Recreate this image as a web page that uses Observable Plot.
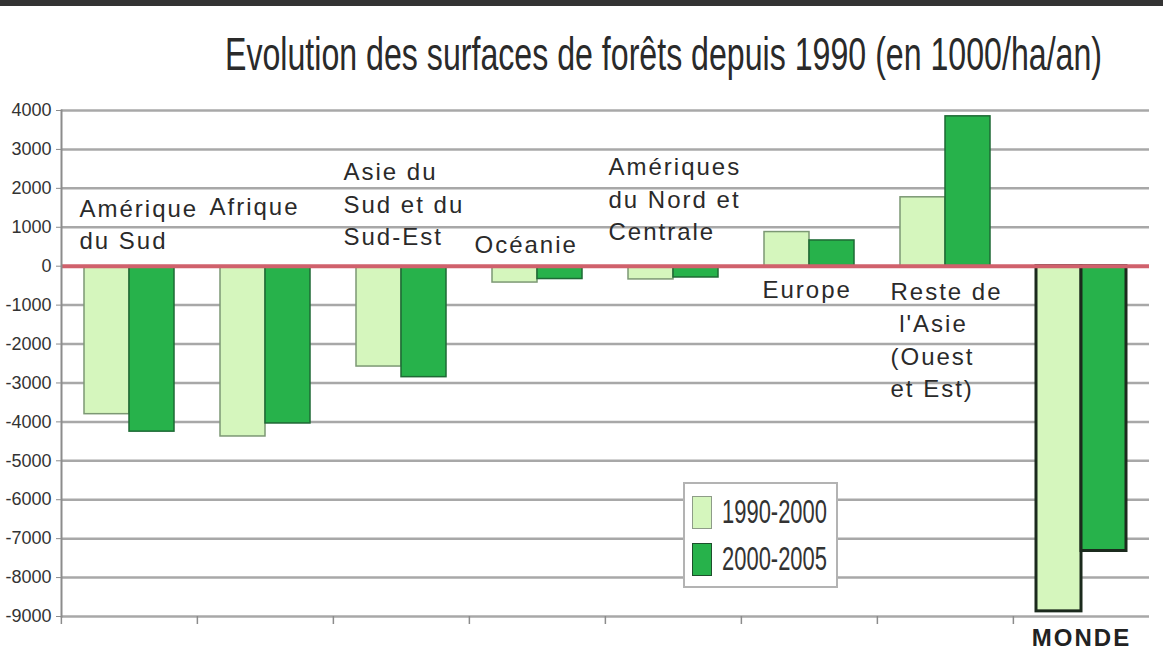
<!DOCTYPE html>
<html>
<head>
<meta charset="utf-8">
<script src="https://cdn.jsdelivr.net/npm/d3@7"></script>
<script src="https://cdn.jsdelivr.net/npm/@observablehq/plot@0.6"></script>
<style>
  body { margin: 0; background: #fff; }
  #page { position: relative; width: 1163px; height: 657px; overflow: hidden; background: #fff; }
  #strip { height: 6px; background: #333; }
  #title { position: relative; height: 84px; }
  #title span { position: absolute; left: 225px; top: 25px; font-family: "Liberation Sans Narrow", "Liberation Sans", Arial, sans-serif; font-size: 46px; line-height: 46px; color: #2a2a2a; white-space: nowrap; transform-origin: 0 0; }
  #legend { position: absolute; left: 683px; top: 482px; width: 151px; height: 102px; border: 2px solid #b3b3b3; background: #fff; z-index: 2; }
  .sw { position: absolute; width: 18px; height: 31px; z-index: 3; }
  .lt { position: absolute; font-family: "Liberation Sans Narrow", "Liberation Sans", Arial, sans-serif; font-size: 34px; line-height: 34px; color: #333; white-space: nowrap; transform-origin: 0 0; z-index: 3; }
  svg g[aria-label="text"] text { letter-spacing: 2px; }
</style>
</head>
<body>
<div id="page">
  <div id="strip"></div>
  <div id="title"><span id="titleText"></span></div>
  <div id="chart"></div>
  <div id="legend"></div>
</div>
<script>
// ---- data ----
const titleText = "Evolution des surfaces de forêts depuis 1990 (en 1000/ha/an)";
const categories = [
  "Amérique du Sud", "Afrique", "Asie du Sud et du Sud-Est", "Océanie",
  "Amériques du Nord et Centrale", "Europe", "Reste de l'Asie (Ouest et Est)", "MONDE"
];
const series = ["1990-2000", "2000-2005"];
const values1990_2000 = [-3802, -4375, -2578, -420, -340, 877, 1770, -8868];
const values2000_2005 = [-4251, -4040, -2851, -330, -290, 661, 3850, -7317];
const yTicks = [4000, 3000, 2000, 1000, 0, -1000, -2000, -3000, -4000, -5000, -6000, -7000, -8000, -9000];
const labelTexts = [
  "Amérique\ndu Sud", "Afrique", "Asie du\nSud et du\nSud-Est", "Océanie",
  "Amériques\ndu Nord et\nCentrale", "Europe", "Reste de\n\u00a0l'Asie\n(Ouest\net Est)", null
];
const bottomLabel = "MONDE";
// label vertical anchor, in chart units (1000 ha/an)
const labelY = [1118, 1593, 1644, 617, 1773, -552, -1850, null];

// ---- layout / style ----
const W = 1163, H = 567, mL = 60, mR = 13, mT = 20, mB = 41;
const step = (W - mL - mR) / categories.length;
const labelDx = [18, 12, 10, 5, 3, 21, 13, 0];
const barStyle = {
  "1990-2000": {fill: "#d5f6bd", stroke: "#7c9874"},
  "2000-2005": {fill: "#27b24b", stroke: "#1e6a35"}
};

const rows = categories.flatMap((c, i) => [
  {region: c, period: series[0], value: values1990_2000[i]},
  {region: c, period: series[1], value: values2000_2005[i]}
]);

document.getElementById("titleText").textContent = titleText;

const marks = [
  Plot.ruleY(yTicks.filter(d => d !== 0), {stroke: "#a8a8a8", strokeWidth: 2.5}),
  ...series.flatMap(s => [
    Plot.barY(rows.filter(d => d.period === s && d.region !== "MONDE"),
      {fx: "region", x: "period", y: "value", fill: barStyle[s].fill, stroke: barStyle[s].stroke, strokeWidth: 1.5}),
    Plot.barY(rows.filter(d => d.period === s && d.region === "MONDE"),
      {fx: "region", x: "period", y: "value", fill: barStyle[s].fill, stroke: "#1b2a1d", strokeWidth: 3})
  ]),
  Plot.ruleY([0], {stroke: "#d0616c", strokeWidth: 4}),
  Plot.frame({anchor: "left", facet: "super", stroke: "#8c8c8c", strokeWidth: 2}),
  Plot.axisY(yTicks, {tickFormat: d => String(d), tickSize: 5, tickPadding: 5, fontSize: 18, color: "#333", stroke: "#8c8c8c", label: null}),
  Plot.axisFx({anchor: "bottom", tickSize: 8, tickFormat: () => "", dx: -step / 2, label: null, stroke: "#8c8c8c", strokeWidth: 1.5}),
  Plot.text([{region: bottomLabel}], {fx: "region", text: "region", frameAnchor: "bottom", lineAnchor: "top", dy: 12, fontSize: 24, fontWeight: "bold", fill: "#222"})
];

categories.forEach((c, i) => {
  if (!labelTexts[i]) return;
  marks.push(Plot.text([{region: c, text: labelTexts[i], y: labelY[i]}], {
    fx: "region", y: "y", text: "text", frameAnchor: "left", textAnchor: "start",
    lineAnchor: "middle", lineHeight: 1.35, dx: labelDx[i], fontSize: 24, fill: "#2a2a2a"
  }));
});

const chart = Plot.plot({
  width: W, height: H,
  marginLeft: mL, marginRight: mR, marginTop: mT, marginBottom: mB,
  style: {fontFamily: "'Liberation Sans', Arial, sans-serif", background: "transparent", overflow: "visible"},
  fx: {domain: categories, padding: 0, label: null},
  x: {domain: series, paddingInner: 0, paddingOuter: 0.5, axis: null},
  y: {domain: [-9000, 4000], label: null},
  marks
});
document.getElementById("chart").appendChild(chart);

// ---- legend ----
const page = document.getElementById("page");
const swTops = [496, 543];
const txtTops = [494, 541];
series.forEach((s, i) => {
  const sw = document.createElement("div");
  sw.className = "sw";
  sw.style.left = "692px";
  sw.style.top = swTops[i] + "px";
  sw.style.background = barStyle[s].fill;
  sw.style.border = "1.5px solid " + (i === 0 ? "#8e9c88" : "#1e4f2c");
  page.appendChild(sw);
  const t = document.createElement("span");
  t.className = "lt";
  t.textContent = s;
  t.style.left = "722px";
  t.style.top = txtTops[i] + "px";
  page.appendChild(t);
  const w = t.getBoundingClientRect().width;
  t.style.transform = `scaleX(${105 / w})`;
});

// fit title width
const tt = document.getElementById("titleText");
const tw = tt.getBoundingClientRect().width;
tt.style.transform = `scaleX(${877 / tw})`;
</script>
</body>
</html>
